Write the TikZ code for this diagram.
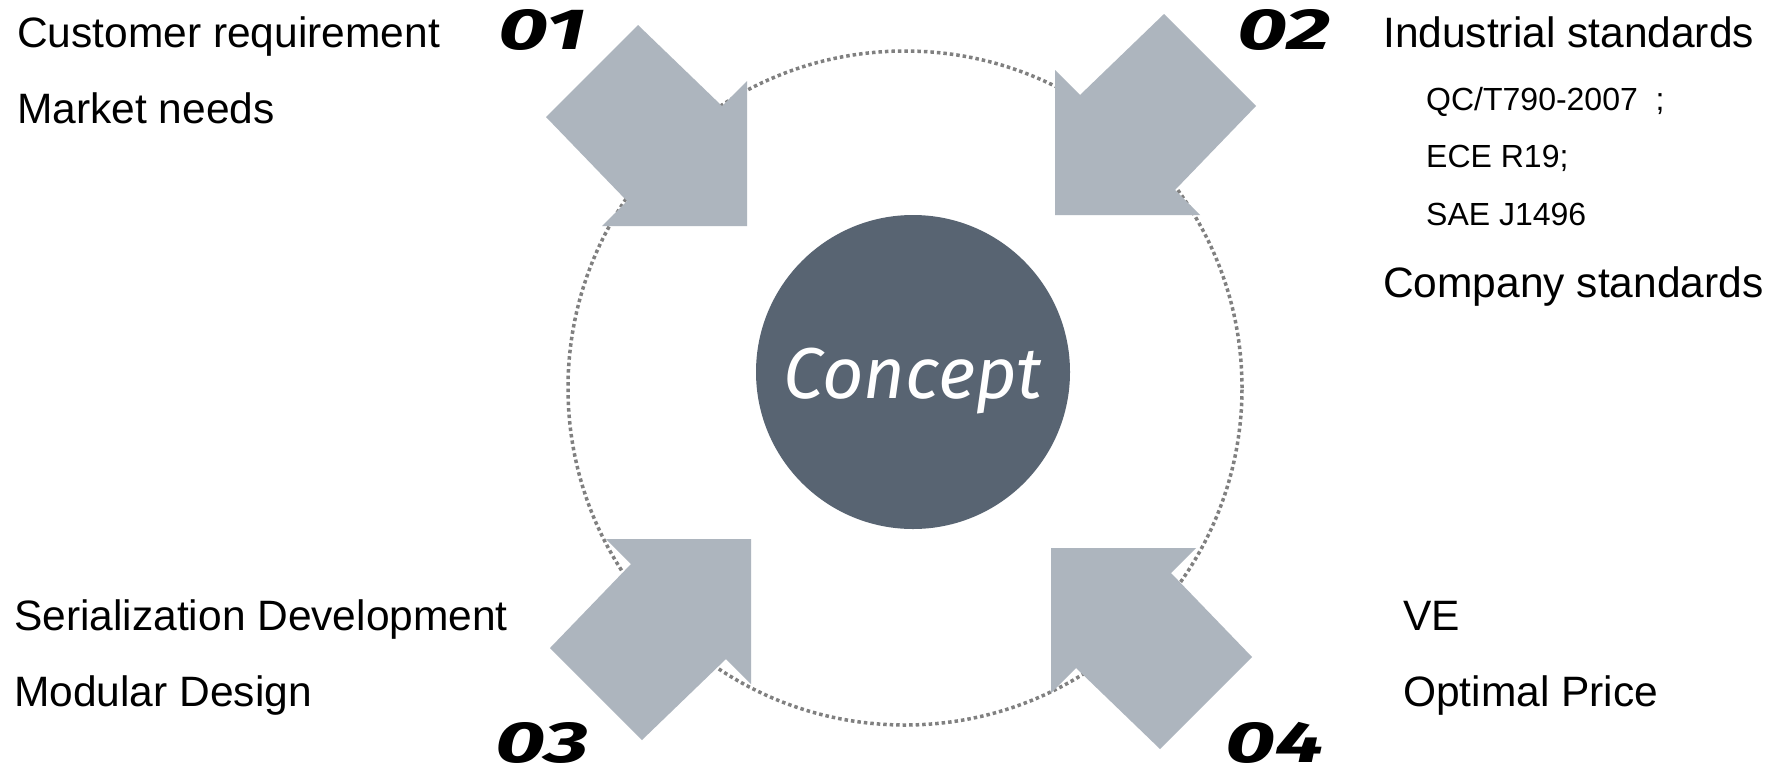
\documentclass[tikz,border=0pt]{standalone}
\usepackage{fontspec}
\setmainfont{Liberation Sans}
\newfontfamily\handfont{Fira Sans}
\newfontfamily\numfont[FakeStretch=1.5]{Fira Sans}
\definecolor{arrowc}{RGB}{173,181,190}
\definecolor{conceptc}{RGB}{88,100,114}
\definecolor{dotc}{RGB}{128,128,128}
\newcommand\fatarrow[3]{%
  \begin{scope}[shift={(#1)}, xscale=#2, yscale=#3]
    \fill[arrowc] (-109,-201) -- (-25,-120) -- (0,-145) -- (0,0) -- (-145,0) -- (-120,-25) -- (-201,-109) -- cycle;
  \end{scope}}
\begin{document}
\begin{tikzpicture}[x=1pt,y=-1pt,
  bigtxt/.style={anchor=base west, inner sep=0pt, font=\fontsize{42.5}{50}\selectfont},
  smalltxt/.style={anchor=base west, inner sep=0pt, font=\fontsize{32}{38}\selectfont},
  numtxt/.style={inner sep=0pt, font=\numfont\bfseries\itshape\fontsize{58}{70}\selectfont}]
\useasboundingbox (0,0) rectangle (1772,772);
\fill[white] (0,0) rectangle (1772,772);
% dotted ring
\node[circle, draw=dotc, line width=3.5pt, dash pattern=on 3.5pt off 3pt, minimum size=674pt, inner sep=0pt] (ring) at (905,388) {};
% arrows
\fatarrow{747,226}{1}{1}
\fatarrow{1055,215}{-1}{1}
\fatarrow{751,539}{1}{-1}
\fatarrow{1051,548}{-1}{-1}
% concept
\node[circle, fill=conceptc, minimum size=314pt, inner sep=0pt] (concept) at (913,372) {};
\node[anchor=base, inner sep=0pt, text=white, font=\handfont\itshape\fontsize{72}{80}\selectfont] (concepttxt) at (913,398) {Concept};
% numbers
\node[numtxt] (n1) at (542,30) {01};
\node[numtxt] (n2) at (1284,30) {02};
\node[numtxt] (n3) at (542,743) {03};
\node[numtxt] (n4) at (1275,743) {04};
% texts
\node[bigtxt] (cust) at (17,47) {Customer requirement};
\node[bigtxt] (mkt) at (17,123) {Market needs};
\node[bigtxt] (ind) at (1383,47) {Industrial standards};
\node[smalltxt] (qc) at (1426,110) {QC/T790-2007\ \ ;};
\node[smalltxt] (ece) at (1426,167) {ECE R19;};
\node[smalltxt] (sae) at (1426,225) {SAE J1496};
\node[bigtxt] (comp) at (1383,297) {Company standards};
\node[bigtxt] (ser) at (14,630) {Serialization Development};
\node[bigtxt] (mod) at (14,706) {Modular Design};
\node[bigtxt] (ve) at (1403,630) {VE};
\node[bigtxt] (opt) at (1403,706) {Optimal Price};
\end{tikzpicture}
\end{document}
